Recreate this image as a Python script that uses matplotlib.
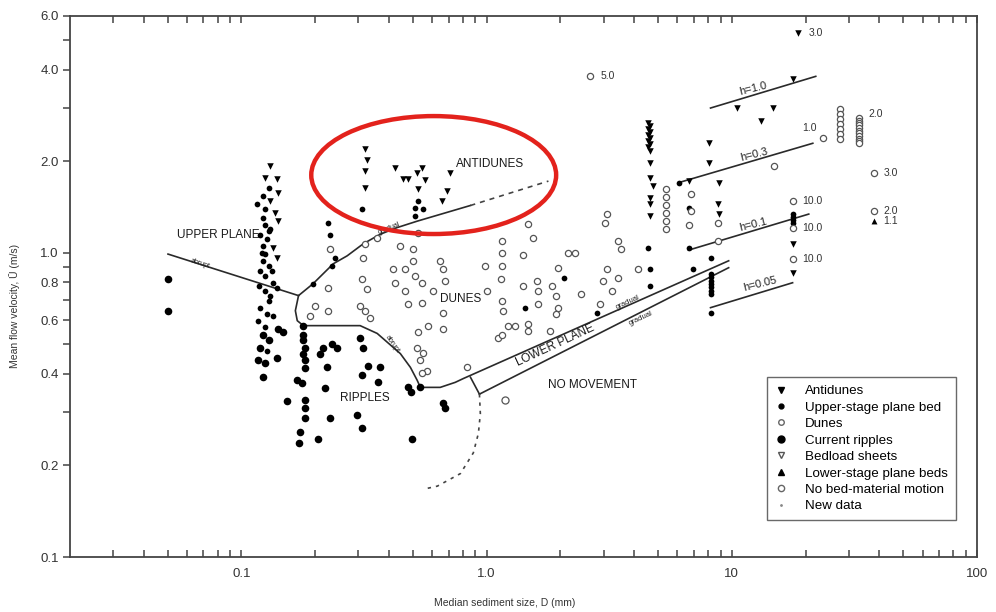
import matplotlib
matplotlib.use("Agg")
import matplotlib.pyplot as plt
from matplotlib.patches import Ellipse
from matplotlib.lines import Line2D

plt.rcParams['font.family'] = ['Liberation Sans', 'DejaVu Sans']

# --- data (D in mm, U in m/s) ---
antidunes_D = [0.131, 0.125, 0.140, 0.141, 0.131, 0.137, 0.141, 0.134, 0.140,
               0.320, 0.326, 0.320, 0.320,
               0.424, 0.457, 0.480, 0.521, 0.547, 0.562, 0.526, 0.712, 0.692, 0.660,
               4.57, 4.62, 4.57, 4.62, 4.57, 4.62, 4.57, 4.62, 4.57, 4.62,
               4.66, 4.66, 4.75, 4.66, 4.66, 4.66,
               6.66, 8.04, 8.04, 8.83, 8.75, 8.83,
               10.55, 14.7, 13.1, 17.7, 18.7, 17.7, 17.7]
antidunes_U = [1.93, 1.76, 1.75, 1.57, 1.48, 1.35, 1.27, 1.04, 0.96,
               2.19, 2.02, 1.86, 1.63,
               1.90, 1.75, 1.75, 1.83, 1.90, 1.74, 1.62, 1.83, 1.60, 1.48,
               2.67, 2.61, 2.55, 2.49, 2.44, 2.38, 2.33, 2.28, 2.23, 2.16,
               1.97, 1.76, 1.66, 1.51, 1.45, 1.32,
               1.72, 2.29, 1.97, 1.70, 1.45, 1.34,
               2.99, 2.99, 2.71, 3.72, 5.26, 1.07, 0.86]

upper_D = [0.129, 0.123, 0.116, 0.125, 0.123, 0.125, 0.129, 0.119, 0.127, 0.123,
           0.125, 0.122, 0.129, 0.119, 0.125, 0.134, 0.140, 0.125, 0.129, 0.119,
           0.127, 0.117, 0.125, 0.127, 0.131, 0.121, 0.133, 0.118, 0.131, 0.135,
           0.226, 0.230, 0.241, 0.235, 0.196,
           0.311, 0.512, 0.512, 0.552, 0.526,
           2.83, 2.06, 1.44,
           4.57, 4.66, 4.66, 6.07, 6.66, 6.66, 6.92, 8.19,
           8.19, 8.19, 8.19, 8.19, 8.19, 8.19, 8.19, 8.19,
           17.7, 17.7, 17.7, 17.7]
upper_U = [1.63, 1.54, 1.45, 1.39, 1.30, 1.23, 1.18, 1.14, 1.11, 1.05,
           0.99, 0.941, 0.906, 0.873, 0.841, 0.797, 0.768, 0.751, 0.696, 0.660,
           0.631, 0.598, 0.568, 0.477, 1.20, 1.00, 0.87, 0.78, 0.72, 0.62,
           1.25, 1.14, 0.963, 0.906, 0.791,
           1.39, 1.40, 1.32, 1.39, 1.48,
           0.636, 0.828, 0.66,
           1.04, 0.886, 0.78, 1.70, 1.40, 1.04, 0.886, 0.963,
           0.854, 0.83, 0.81, 0.79, 0.77, 0.75, 0.734, 0.636,
           1.34, 1.31, 1.28, 1.25]

dunes_D = [0.230, 0.226, 0.200, 0.226, 0.191, 0.320, 0.314, 0.311, 0.326, 0.305,
           0.320, 0.335, 0.358, 0.416, 0.466, 0.502, 0.512, 0.547, 0.466, 0.480,
           0.547, 0.502, 0.526, 0.647, 0.666, 0.679, 0.666, 0.578, 0.526, 0.666,
           0.521, 0.552, 0.537, 0.573, 0.547, 0.445, 0.424, 0.607,
           0.988, 1.007, 0.834, 1.117, 1.48, 1.54, 1.16, 1.16, 1.16, 1.14,
           1.41, 1.41, 1.61, 1.625, 1.16, 1.17, 1.625, 1.22, 1.31, 1.47,
           1.47, 1.16, 1.82, 2.14, 2.30, 1.96, 1.855, 1.91, 1.96, 1.91,
           2.42, 3.11, 3.05, 3.45, 3.52, 3.11, 2.97, 3.26, 3.45, 2.91, 4.16,
           5.37, 5.37, 5.37, 5.37, 5.37, 5.37,
           6.79, 6.79, 6.66, 8.75, 8.75,
           2.65, 14.8, 23.5, 37.9, 17.7, 17.7, 17.7, 37.9,
           27.5, 27.5, 27.5, 27.5, 27.5, 27.5, 27.5,
           32.9, 32.9, 32.9, 32.9, 32.9, 32.9, 32.9, 32.9, 32.9, 32.9, 32.9]
dunes_U = [1.03, 0.768, 0.67, 0.645, 0.621, 1.07, 0.963, 0.822, 0.762, 0.670,
           0.645, 0.608, 1.12, 0.886, 0.886, 0.941, 0.841, 0.797, 0.751, 0.68,
           0.686, 1.03, 1.16, 0.941, 0.886, 0.809, 0.636, 0.576, 0.547, 0.563,
           0.488, 0.470, 0.443, 0.410, 0.401, 1.05, 0.797, 0.751,
           0.906, 0.751, 0.420, 0.526, 1.24, 1.12, 1.09, 1.00, 0.906, 0.822,
           0.98, 0.78, 0.809, 0.751, 0.696, 0.645, 0.680, 0.576, 0.576, 0.585,
           0.555, 0.535, 0.555, 1.00, 1.00, 0.893, 0.78, 0.723, 0.66, 0.631,
           0.734, 1.34, 1.25, 1.09, 1.03, 0.886, 0.809, 0.751, 0.828, 0.680, 0.886,
           1.62, 1.53, 1.44, 1.35, 1.27, 1.20,
           1.56, 1.37, 1.23, 1.25, 1.09,
           3.80, 1.93, 2.38, 1.83, 1.48, 1.21, 0.956, 1.37,
           2.96, 2.86, 2.75, 2.65, 2.55, 2.45, 2.36,
           2.77, 2.72, 2.67, 2.62, 2.57, 2.52, 2.47, 2.42, 2.37, 2.33, 2.29]

ripples_D = [0.0502, 0.0502,
             0.122, 0.119, 0.140, 0.117, 0.125, 0.123, 0.148, 0.141, 0.129, 0.154,
             0.179, 0.179, 0.179, 0.181, 0.179, 0.182, 0.182, 0.169, 0.177, 0.182,
             0.182, 0.182, 0.174, 0.172, 0.206,
             0.216, 0.235, 0.246, 0.209, 0.224, 0.220, 0.230,
             0.305, 0.314, 0.329, 0.368, 0.311, 0.362, 0.297, 0.311,
             0.480, 0.490, 0.537, 0.666, 0.679, 0.498]
ripples_U = [0.822, 0.645,
             0.535, 0.488, 0.450, 0.443, 0.433, 0.390, 0.547, 0.563, 0.515, 0.325,
             0.576, 0.535, 0.515, 0.488, 0.466, 0.443, 0.417, 0.381, 0.372, 0.327,
             0.308, 0.287, 0.257, 0.237, 0.245,
             0.488, 0.503, 0.488, 0.466, 0.420, 0.358, 0.287,
             0.526, 0.488, 0.426, 0.420, 0.395, 0.375, 0.292, 0.265,
             0.361, 0.348, 0.361, 0.320, 0.308, 0.245]

no_motion_D = [1.19]
no_motion_U = [0.327]
lower_plane_D = [37.9]
lower_plane_U = [1.27]

# flow depth labels (m) next to some points
depth_D = [18.7, 2.65, 23.5, 32.9, 37.9, 17.7, 17.7, 17.7, 37.9, 37.9]
depth_U = [5.26, 3.80, 2.38, 2.86, 1.83, 1.48, 1.21, 0.956, 1.37, 1.27]
depth_txt = ['3.0', '5.0', '1.0', '2.0', '3.0', '10.0', '10.0', '10.0', '2.0', '1.1']

# bedform boundaries
abrupt_D, abrupt_U = [0.0502, 0.171], [0.99, 0.723]
dune_top_D = [0.171, 0.196, 0.237, 0.270, 0.314, 0.368, 0.432, 0.521, 0.859]
dune_top_U = [0.723, 0.791, 0.920, 0.977, 1.07, 1.15, 1.21, 1.27, 1.43]
anti_dash_D, anti_dash_U = [0.859, 1.787], [1.43, 1.72]
ripple_D = [0.171, 0.166, 0.169, 0.179, 0.305, 0.358, 0.445, 0.489, 0.521,
            0.537, 0.647, 0.745, 0.804, 9.71]
ripple_U = [0.723, 0.645, 0.598, 0.576, 0.576, 0.543, 0.466, 0.420, 0.381,
            0.361, 0.361, 0.375, 0.386, 0.941]
connect_D, connect_U = [0.859, 0.935], [0.390, 0.343]
lower_D, lower_U = [0.935, 9.71], [0.343, 0.893]
arc_D = [0.935, 0.943, 0.926, 0.883, 0.782, 0.630, 0.552]
arc_U = [0.343, 0.296, 0.255, 0.220, 0.188, 0.171, 0.167]

h_lines = {
    'h=1.0': ([8.19, 22.0], [2.99, 3.80], (12.2, 3.47)),
    'h=0.3': ([6.07, 21.4], [1.70, 2.29], (12.3, 2.10)),
    'h=0.1': ([6.66, 20.6], [1.02, 1.34], (12.2, 1.235)),
    'h=0.05': ([8.19, 17.7], [0.66, 0.797], (13.1, 0.791)),
}

fig = plt.figure(figsize=(9.96, 6.12), dpi=100)
ax = fig.add_axes([70 / 996, 55 / 612, 907 / 996, 541 / 612])
ax.set_xscale('log')
ax.set_yscale('log')
ax.set_xlim(0.02, 100)
ax.set_ylim(0.1, 6.0)

ink = '#2a2a2a'
ax.scatter(antidunes_D, antidunes_U, marker='v', s=22, c='black', linewidths=0, zorder=3)
ax.scatter(upper_D, upper_U, marker='o', s=17, c='black', linewidths=0, zorder=3)
ax.scatter(dunes_D, dunes_U, marker='o', s=20, facecolors='white', edgecolors='#555555',
           linewidths=0.9, zorder=3)
ax.scatter(ripples_D, ripples_U, marker='o', s=30, c='black', linewidths=0, zorder=3)
ax.scatter(lower_plane_D, lower_plane_U, marker='^', s=18, c='black', linewidths=0, zorder=3)
ax.scatter(no_motion_D, no_motion_U, marker='o', s=26, facecolors='white', edgecolors='#555555',
           linewidths=0.9, zorder=3)

for d, u, t in zip(depth_D, depth_U, depth_txt):
    off = (-15, 7) if t == '1.0' and d == 23.5 else (7, 0)
    ax.annotate(t, (d, u), xytext=off, textcoords='offset points', va='center',
                ha='left', fontsize=7.5, color='#333333')

lw = 1.2
ax.plot(abrupt_D, abrupt_U, color=ink, lw=lw)
ax.plot(dune_top_D, dune_top_U, color=ink, lw=lw)
ax.plot(anti_dash_D, anti_dash_U, color='#444444', lw=lw, ls=(0, (3, 3)))
ax.plot(ripple_D, ripple_U, color=ink, lw=lw)
ax.plot(connect_D, connect_U, color=ink, lw=lw)
ax.plot(lower_D, lower_U, color=ink, lw=lw)
ax.plot(arc_D, arc_U, color='#444444', lw=lw, ls=(0, (2, 3)))
for name, (hd, hu, pos) in h_lines.items():
    ax.plot(hd, hu, color=ink, lw=lw)
    ax.text(pos[0], pos[1], name, fontsize=8, rotation=14, ha='center', va='center',
            color='#222222')

txt = dict(color='#1a1a1a', ha='center', va='center')
ax.text(0.0804, 1.14, 'UPPER PLANE', fontsize=8.5, **txt)
ax.text(0.068, 0.92, 'abrupt', fontsize=5, rotation=-18, **txt)
ax.text(0.40, 1.20, 'gradual', fontsize=5, rotation=22, **txt)
ax.text(1.035, 1.96, 'ANTIDUNES', fontsize=8.5, **txt)
ax.text(0.782, 0.707, 'DUNES', fontsize=8.5, **txt)
ax.text(0.32, 0.333, 'RIPPLES', fontsize=8.5, **txt)
ax.text(0.412, 0.50, 'abrupt', fontsize=5, rotation=-55, **txt)
ax.text(1.91, 0.496, 'LOWER PLANE', fontsize=8.5, rotation=25, **txt)
ax.text(3.75, 0.686, 'gradual', fontsize=5.5, rotation=25, **txt)
ax.text(4.25, 0.608, 'gradual', fontsize=5.5, rotation=25, **txt)
ax.text(2.70, 0.367, 'NO MOVEMENT', fontsize=8.5, **txt)

# highlight ellipse
ax.add_patch(Ellipse((0.401, 0.706), 0.27, 0.218, transform=ax.transAxes,
                     fill=False, edgecolor='#e3221c', lw=3.2, zorder=5))

# axes styling
for side in ['left', 'bottom', 'top', 'right']:
    ax.spines[side].set_color('#444444')
    ax.spines[side].set_linewidth(1.3)

ax.set_yticks([0.1, 0.2, 0.4, 0.6, 0.8, 1.0, 2.0, 4.0, 6.0])
ax.set_yticklabels(['0.1', '0.2', '0.4', '0.6', '0.8', '1.0', '2.0', '4.0', '6.0'])
ax.set_yticks([0.3, 0.5, 0.7, 0.9, 3.0, 5.0], minor=True)
ax.set_xticks([0.1, 1, 10, 100])
ax.set_xticklabels(['0.1', '1.0', '10', '100'])
xminor = [m * 10.0 ** e for e in (-2, -1, 0, 1) for m in range(2, 10)]
ax.set_xticks([v for v in xminor if v > 0.02], minor=True)
ax.yaxis.set_minor_formatter(plt.NullFormatter())
ax.xaxis.set_minor_formatter(plt.NullFormatter())
ax.tick_params(axis='y', which='both', direction='out', length=5, width=1.1,
               color='#444444', labelsize=9.5, labelcolor='#333333', pad=3,
               left=True, right=False)
ax.tick_params(axis='x', which='both', direction='in', length=5, width=1.1,
               color='#444444', labelsize=9.5, labelcolor='#333333', pad=8,
               top=True, bottom=True)

fig.text(15 / 996, 1 - 306 / 612, 'Mean flow velocity, Ū (m/s)', rotation=90,
         ha='center', va='center', fontsize=7.5, color='#333333')
fig.text(505 / 996, 1 - 603 / 612, 'Median sediment size, D (mm)',
         ha='center', va='center', fontsize=7.5, color='#333333')

handles = [
    Line2D([], [], ls='', marker='v', ms=4, mfc='black', mec='black'),
    Line2D([], [], ls='', marker='o', ms=3.5, mfc='black', mec='black'),
    Line2D([], [], ls='', marker='o', ms=4, mfc='white', mec='#666666'),
    Line2D([], [], ls='', marker='o', ms=5, mfc='black', mec='black'),
    Line2D([], [], ls='', marker='v', ms=4.5, mfc='white', mec='#555555'),
    Line2D([], [], ls='', marker='^', ms=4, mfc='black', mec='black'),
    Line2D([], [], ls='', marker='o', ms=4.5, mfc='white', mec='#666666'),
    Line2D([], [], ls='', marker='.', ms=2, mfc='#888888', mec='#888888'),
]
labels = ['Antidunes', 'Upper-stage plane bed', 'Dunes', 'Current ripples',
          'Bedload sheets', 'Lower-stage plane beds', 'No bed-material motion', 'New data']
leg = ax.legend(handles, labels, loc='upper left', bbox_to_anchor=(0.768, 0.333),
                frameon=True, fancybox=False, fontsize=9.6, handlelength=1.0,
                handletextpad=1.3, labelspacing=0.31, borderpad=0.6, borderaxespad=0)
leg.get_frame().set_edgecolor('#444444')
leg.get_frame().set_linewidth(1.0)

fig.savefig('out.png', dpi=100)
